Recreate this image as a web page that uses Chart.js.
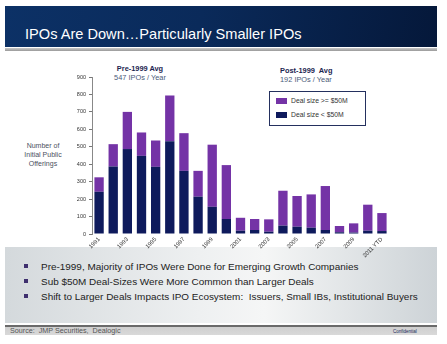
<!DOCTYPE html>
<html>
<head>
<meta charset="utf-8">
<script src="https://cdn.jsdelivr.net/npm/chart.js@4.4.0/dist/chart.umd.min.js"></script>
<style>
  html, body { margin: 0; padding: 0; background: #fff; }
  body { width: 447px; height: 344px; position: relative; overflow: hidden; font-family: Arial, "Liberation Sans", sans-serif; }
  .titlebar { position: absolute; left: 5px; top: 6px; width: 432px; height: 41px;
    background: linear-gradient(100deg, #0c3166 0%, #0a2a5a 45%, #05183a 100%); }
  .titlebar span { position: absolute; left: 20px; top: 20px; color: #fff; font-size: 14.6px; }
  .rule { position: absolute; left: 5px; top: 48px; width: 432px; height: 3px; background: linear-gradient(#c8c8c8, #9a9a9a); }
  .panel { position: absolute; left: 5px; top: 247px; width: 432px; height: 76px;
    background: linear-gradient(90deg, #d4d9dc 0%, #eef0f1 45%, #f5f6f6 60%, #cdd3d7 100%); }
  .panel ul { list-style: none; margin: 0; padding: 0; position: absolute; left: 19px; top: 13px; }
  .panel li { font-size: 9.95px; color: #222; height: 15px; line-height: 13px; position: relative; padding-left: 17px; white-space: nowrap; }
  .panel li:before { content: ""; position: absolute; left: 0; top: 4px; width: 4px; height: 4px; background: #3e2f6e; }
  .foot { position: absolute; left: 5px; top: 325px; width: 432px; height: 10px;
    background: linear-gradient(#6a6a6a 0, #6a6a6a 1.5px, #cfcfcf 2px, #d9d9d9 100%); }
  .src { position: absolute; left: 10px; top: 326px; font-size: 7.2px; color: #555; }
  .conf { position: absolute; left: 393px; top: 329px; font-size: 4.5px; color: #1b2a5a; }
  .note { position: absolute; font-size: 7.4px; text-align: center; line-height: 9px; }
  .note b { color: #1c2550; }
  .note i { font-style: normal; color: #4a5a78; }
  .ytitle { position: absolute; left: 13px; top: 141px; width: 60px; text-align: center; font-size: 7px; line-height: 9px; color: #4a5060; }
  .legend { position: absolute; left: 269px; top: 91px; width: 95px; height: 33px; border: 1.4px solid #24305e; background: #fff; }
  .legend div { position: absolute; left: 6px; font-size: 6.8px; color: #333; }
  .legend div s { display: inline-block; width: 11px; height: 6px; margin-right: 4px; vertical-align: -1px; }
  canvas { position: absolute; left: 0; top: 0; }
</style>
</head>
<body>
<div class="titlebar"><span>IPOs Are Down…Particularly Smaller IPOs</span></div>
<div class="rule"></div>
<div class="panel">
  <ul>
    <li>Pre-1999, Majority of IPOs Were Done for Emerging Growth Companies</li>
    <li>Sub $50M Deal-Sizes Were More Common than Larger Deals</li>
    <li>Shift to Larger Deals Impacts IPO Ecosystem:&nbsp; Issuers, Small IBs, Institutional Buyers</li>
  </ul>
</div>
<div class="foot"></div>
<div class="src">Source:&nbsp; JMP Securities,&nbsp; Dealogic</div>
<div class="conf">Confidential</div>
<div class="ytitle">Number of<br>Initial Public<br>Offerings</div>
<div class="note" style="left:105px; top:64px; width:70px;"><b>Pre-1999 Avg</b><br><i>547 IPOs / Year</i></div>
<div class="note" style="left:280px; top:66px; text-align:left;"><b>Post-1999&nbsp; Avg</b><br><i>192 IPOs / Year</i></div>
<canvas id="result" width="447" height="344"></canvas>
<div class="legend">
  <div style="top:5px"><s style="background:#7433a6"></s>Deal size &gt;= $50M</div>
  <div style="top:19px"><s style="background:#0e1a5c"></s>Deal size &lt; $50M</div>
</div>
<script>
const years = ['1991','1992','1993','1994','1995','1996','1997','1998','1999','2000',
  '2001','2002','2003','2004','2005','2006','2007','2008','2009','2010','2011 YTD'];
// deals under $50M (dark, bottom of stack)
const small_deals = [242, 387, 487, 448, 385, 532, 362, 214, 156, 86,
  19, 23, 13, 48, 42, 36, 23, 10, 8, 19, 17];
// deals of $50M and up (purple, top of stack)
const large_deals = [83, 128, 213, 134, 151, 262, 216, 148, 356, 309,
  74, 63, 71, 200, 176, 191, 252, 36, 53, 149, 103];
const y_ticks = [0, 100, 200, 300, 400, 500, 600, 700, 800, 900];

const ctx = document.getElementById('result').getContext('2d');

function setChart(ctx) {
    return new Chart(ctx, {
        type: 'bar',
        data: {
            labels: years,
            datasets: [{
                label: 'Deal size < $50M',
                data: small_deals,
                backgroundColor: '#0e1a5c',
                borderWidth: 0,
                barPercentage: 0.66,
                categoryPercentage: 1
            }, {
                label: 'Deal size >= $50M',
                data: large_deals,
                backgroundColor: '#7433a6',
                borderWidth: 0,
                barPercentage: 0.66,
                categoryPercentage: 1
            }]
        },
        options: {
            responsive: false,
            animation: false,
            layout: {
                padding: { left: 62, right: 58, top: 77, bottom: 80 }
            },
            plugins: {
                legend: { display: false },
                tooltip: { enabled: false }
            },
            scales: {
                x: {
                    stacked: true,
                    offset: true,
                    grid: { display: false, drawTicks: false },
                    border: { display: false },
                    afterFit: function (scale) { scale.height = 30; },
                    ticks: {
                        autoSkip: false,
                        maxRotation: 45,
                        minRotation: 45,
                        padding: 2,
                        color: '#333',
                        font: { size: 5.8, family: 'Arial' },
                        callback: function (val, i) {
                            return i % 2 === 0 ? years[i] : '';
                        }
                    }
                },
                y: {
                    stacked: true,
                    min: 0,
                    max: 900,
                    afterBuildTicks: function (scale) {
                        scale.ticks = y_ticks.map((v) => ({ value: v }));
                    },
                    afterFit: function (scale) { scale.width = 30; },
                    grid: {
                        drawOnChartArea: false,
                        drawTicks: true,
                        tickLength: 3,
                        color: '#777'
                    },
                    border: { display: true, color: '#888', width: 1 },
                    ticks: {
                        padding: 3,
                        color: '#333',
                        font: { size: 5.5, family: 'Arial' }
                    }
                }
            }
        }
    });
}

var chart = setChart(ctx);
</script>
</body>
</html>
